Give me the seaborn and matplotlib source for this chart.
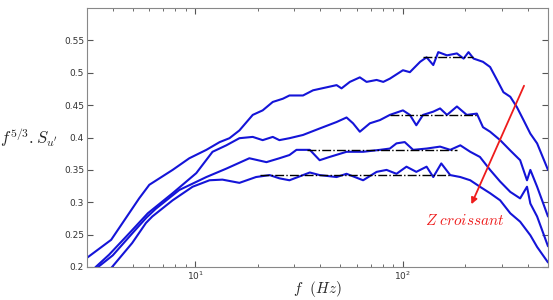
import matplotlib
matplotlib.use("Agg")
import matplotlib.pyplot as plt
import seaborn as sns
import pandas as pd

# spectra, from the highest curve to the lowest
f1 = [3.0, 3.93, 5.36, 6.0, 7.77, 9.35, 11.3, 13.1, 14.6, 16.3, 18.9, 21.1, 23.6, 26.4, 28.4,
      33.0, 36.9, 47.9, 50.6, 55.5, 62, 66.8, 74.7, 80.4, 86.5, 100, 108, 121, 130, 140, 148,
      163, 182, 196, 207, 219, 243, 263, 284, 305, 329, 354, 381, 411, 443, 500]
s1 = [0.214, 0.242, 0.306, 0.327, 0.350, 0.368, 0.381, 0.393, 0.399, 0.411, 0.435, 0.442, 0.455, 0.460, 0.465,
      0.465, 0.473, 0.481, 0.476, 0.486, 0.493, 0.486, 0.489, 0.486, 0.491, 0.504, 0.501, 0.517, 0.524, 0.512, 0.532,
      0.527, 0.530, 0.522, 0.532, 0.522, 0.517, 0.509, 0.489, 0.470, 0.463, 0.447, 0.427, 0.406, 0.391, 0.350]

f2 = [3.0, 3.31, 3.84, 4.8, 5.9, 7.77, 10.1, 12.1, 14.1, 16.3, 18.9, 21.1, 23.6, 25.4, 28.4, 33.0,
      39.7, 47.9, 53.5, 57.5, 62, 69.3, 77.5, 86.5, 100, 108, 116, 125, 140, 151, 163, 182, 203,
      227, 243, 263, 294, 329, 367, 396, 411, 443, 500]
s2 = [0.185, 0.200, 0.219, 0.252, 0.283, 0.314, 0.345, 0.378, 0.388, 0.399, 0.401, 0.396, 0.401, 0.396, 0.399, 0.404,
      0.414, 0.424, 0.431, 0.422, 0.409, 0.422, 0.427, 0.435, 0.442, 0.435, 0.419, 0.435, 0.440, 0.445, 0.435, 0.448, 0.435,
      0.437, 0.416, 0.409, 0.396, 0.380, 0.365, 0.334, 0.350, 0.324, 0.278]

f3 = [3.0, 3.4, 4.0, 5.0, 5.8, 6.45, 8.37, 11.3, 14.1, 18.2, 22, 25.4, 28.4, 30.7, 35.6, 39.7, 44.3,
      53.5, 64.3, 77.5, 86.5, 93.1, 102, 112, 130, 151, 169, 189, 211, 235, 263, 294, 329, 367,
      396, 411, 443, 500]
s3 = [0.180, 0.200, 0.218, 0.253, 0.276, 0.290, 0.319, 0.339, 0.352, 0.368, 0.362, 0.368, 0.373, 0.381, 0.381, 0.365, 0.370,
      0.378, 0.378, 0.381, 0.383, 0.391, 0.393, 0.381, 0.383, 0.386, 0.381, 0.388, 0.378, 0.370, 0.350, 0.332, 0.316, 0.306,
      0.324, 0.298, 0.278, 0.232]

f4 = [3.0, 3.97, 4.96, 5.78, 6.2, 7.77, 9.7, 11.7, 13.5, 16.3, 19.6, 22.8, 25.4, 28.4, 35.6, 39.7,
      47.9, 53.5, 64.3, 74.7, 83.4, 93.1, 104, 116, 130, 140, 153, 169, 189, 211, 235, 263, 294,
      329, 367, 411, 443, 500]
s4 = [0.160, 0.200, 0.237, 0.268, 0.278, 0.303, 0.324, 0.334, 0.335, 0.330, 0.339, 0.342, 0.337, 0.334, 0.346, 0.342,
      0.339, 0.344, 0.334, 0.347, 0.350, 0.344, 0.355, 0.347, 0.355, 0.339, 0.360, 0.342, 0.339, 0.334, 0.324, 0.314, 0.303,
      0.283, 0.270, 0.249, 0.231, 0.207]

# plateau levels (dash-dot) : start, end, level
plateau_start = [125, 86.5, 34.4, 20.4]
plateau_end = [218, 228, 182, 169]
plateau_level = [0.524, 0.435, 0.380, 0.342]

sns.set_style("ticks")
plt.rcParams["mathtext.fontset"] = "cm"

fig = plt.figure(figsize=(5.53, 3.0), dpi=100)
ax = fig.add_axes([0.157, 0.11, 0.834, 0.863])

for f, s in [(f1, s1), (f2, s2), (f3, s3), (f4, s4)]:
    d = pd.DataFrame({"f": f, "s": s})
    sns.lineplot(data=d, x="f", y="s", ax=ax, color="#1414d8", lw=1.5,
                 estimator=None, sort=False)

for a, b, lev in zip(plateau_start, plateau_end, plateau_level):
    ax.plot([a, b], [lev, lev], color="black", ls="-.", lw=1.0)

ax.set_xscale("log")
ax.set_xlim(3, 500)
ax.set_ylim(0.2, 0.6)
ax.set_yticks([0.2, 0.25, 0.3, 0.35, 0.4, 0.45, 0.5, 0.55])
ax.set_yticklabels(["0.2", "0.25", "0.3", "0.35", "0.4", "0.45", "0.5", "0.55"])

ax.tick_params(which="both", direction="in", top=True, right=True, labelsize=6.5,
               color="#555555", labelcolor="#333333", pad=2)
ax.tick_params(which="major", length=4)
ax.tick_params(which="minor", length=2.5)
for sp in ax.spines.values():
    sp.set_color("#888888")
    sp.set_linewidth(0.8)

ax.set_xlabel(r"$f\ \ (Hz)$", fontsize=11)
ax.xaxis.set_label_coords(0.5, -0.048)
ax.set_ylabel("")
ax.text(-0.125, 0.5, r"$f^{5/3}{.}S_{u'}$", transform=ax.transAxes, fontsize=12,
        ha="center", va="center")

# arrow "Z croissant"
ax.annotate("", xy=(211, 0.293), xytext=(388, 0.484),
            arrowprops=dict(arrowstyle="-|>", color="#ee1c1c", lw=1.3, mutation_scale=9))
ax.text(199, 0.272, r"$Z\ croissant$", color="#ee1c1c", fontsize=11, ha="center", va="center")

fig.savefig("out.png", dpi=100)
